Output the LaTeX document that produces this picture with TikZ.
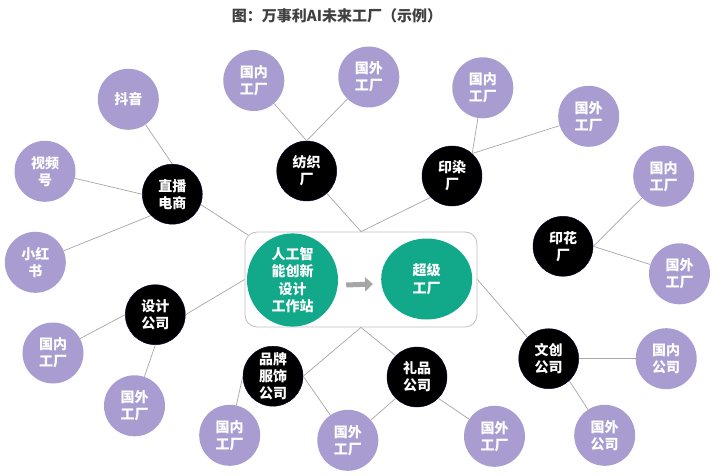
\documentclass[tikz,border=0pt]{standalone}
\usepackage{fontspec}
\setmainfont{Noto Sans CJK SC}
\usetikzlibrary{calc,positioning,shapes.geometric,arrows.meta}
\definecolor{zise}{HTML}{A99CD0}
\definecolor{lvse}{HTML}{12A88A}
\definecolor{xian}{HTML}{A6A6A6}
\definecolor{kuang}{HTML}{BFBFBF}
\definecolor{biaoti}{HTML}{404040}

\begin{document}
\begin{tikzpicture}[x=1pt,y=-1pt,
    hei/.style={circle,fill=black,draw=black!80!blue,text=white,minimum size=60pt,inner sep=0pt,align=center,font=\fontsize{14}{17}\selectfont\bfseries},
    zi/.style={circle,fill=zise,text=white,minimum size=61pt,inner sep=0pt,align=center,font=\fontsize{14}{17}\selectfont\bfseries},
    lv/.style={ellipse,fill=lvse,text=white,minimum width=91pt,minimum height=81pt,inner sep=0pt,align=center,font=\fontsize{14}{17.5}\selectfont\bfseries},
    lian/.style={draw=xian,line width=0.7pt}]
      \useasboundingbox (0,0) rectangle (723,476);
      \node[text=biaoti,font=\fontsize{15}{18}\selectfont\bfseries] (T) at (337,16) {图：万事利AI未来工厂（示例）};
      % center box
      \node[draw=kuang,line width=0.8pt,rounded corners=12pt,minimum width=232pt,minimum height=95pt] (box) at (361,279.5) {};
      \node[lv] (ai) at (292.5,280) {人工智\\能创新\\设计\\工作站};
      \node[lv] (cj) at (426.7,279) {超级\\工厂};
      \draw[xian,line width=5pt,-{Triangle[length=8pt,width=14pt]}] (ai.east)++(8,5) -- ($(cj.west)+(-8,5)$);
      % black nodes
      \node[hei] (zb) at (172.3,194.2) {直播\\电商};
      \node[hei] (fz) at (306.7,171) {纺织\\厂};
      \node[hei] (yr) at (452,176) {印染\\厂};
      \node[hei] (yh) at (563,246.3) {印花\\厂};
      \node[hei] (sj) at (155.3,314.7) {设计\\公司};
      \node[hei] (pp) at (273,376.2) {品牌\\服饰\\公司};
      \node[hei] (lp) at (417,377) {礼品\\公司};
      \node[hei] (wc) at (548.7,358.7) {文创\\公司};
      % purple nodes
      \node[zi] (dy) at (128.3,99.3) {抖音};
      \node[zi] (sph) at (45,171.3) {视频\\号};
      \node[zi] (xhs) at (35.3,262.3) {小红\\书};
      \node[zi] (fzn) at (253.8,80.5) {国内\\工厂};
      \node[zi] (fzw) at (368.8,77) {国外\\工厂};
      \node[zi] (yrn) at (482.8,87.8) {国内\\工厂};
      \node[zi] (yrw) at (588.7,116.3) {国外\\工厂};
      \node[zi] (yhn) at (663.7,176.2) {国内\\工厂};
      \node[zi] (yhw) at (679.5,273.8) {国外\\工厂};
      \node[zi] (wcn) at (666.2,358.7) {国内\\公司};
      \node[zi] (wcw) at (604.7,435.3) {国外\\公司};
      \node[zi] (sjn) at (53,353) {国内\\工厂};
      \node[zi] (sjw) at (134.5,405.8) {国外\\工厂};
      \node[zi] (ppn) at (229.7,435.3) {国内\\工厂};
      \node[zi] (mid) at (347.8,440.3) {国外\\工厂};
      \node[zi] (lpw) at (494.5,436.3) {国外\\工厂};
      % connectors
      \draw[lian] (dy) -- (zb.north);
      \draw[lian] (sph) -- (zb.west);
      \draw[lian] (xhs) -- (zb.225);
      \draw[lian] (zb.-20) -- ($(box.north west)+(3.5,3.5)$);
      \draw[lian] (fzn) -- (fz.north);
      \draw[lian] (fzw) -- (fz.north);
      \draw[lian] (fz) -- (box.north);
      \draw[lian] (yrn) -- (yr.48);
      \draw[lian] (yrw) -- (yr.48);
      \draw[lian] (yr.225) -- (box.north);
      \draw[lian] (yhn) -- (yh.east);
      \draw[lian] (yhw) -- (yh.east);
      \draw[lian] (wc.135) -- (box.east);
      \draw[lian] (wc.east) -- (wcn);
      \draw[lian] (wc.-47) -- (wcw);
      \draw[lian] (sj.east) -- (box.west);
      \draw[lian] (sj.west) -- (sjn);
      \draw[lian] (sj.south) -- (sjw);
      \draw[lian] (pp.east) -- (box.south);
      \draw[lian] (pp.west) -- (ppn);
      \draw[lian] (pp.east) -- (mid);
      \draw[lian] (lp.135) -- (box.south);
      \draw[lian] (lp.225) -- (mid);
      \draw[lian] (lp.-45) -- (lpw);
\end{tikzpicture}
\end{document}
